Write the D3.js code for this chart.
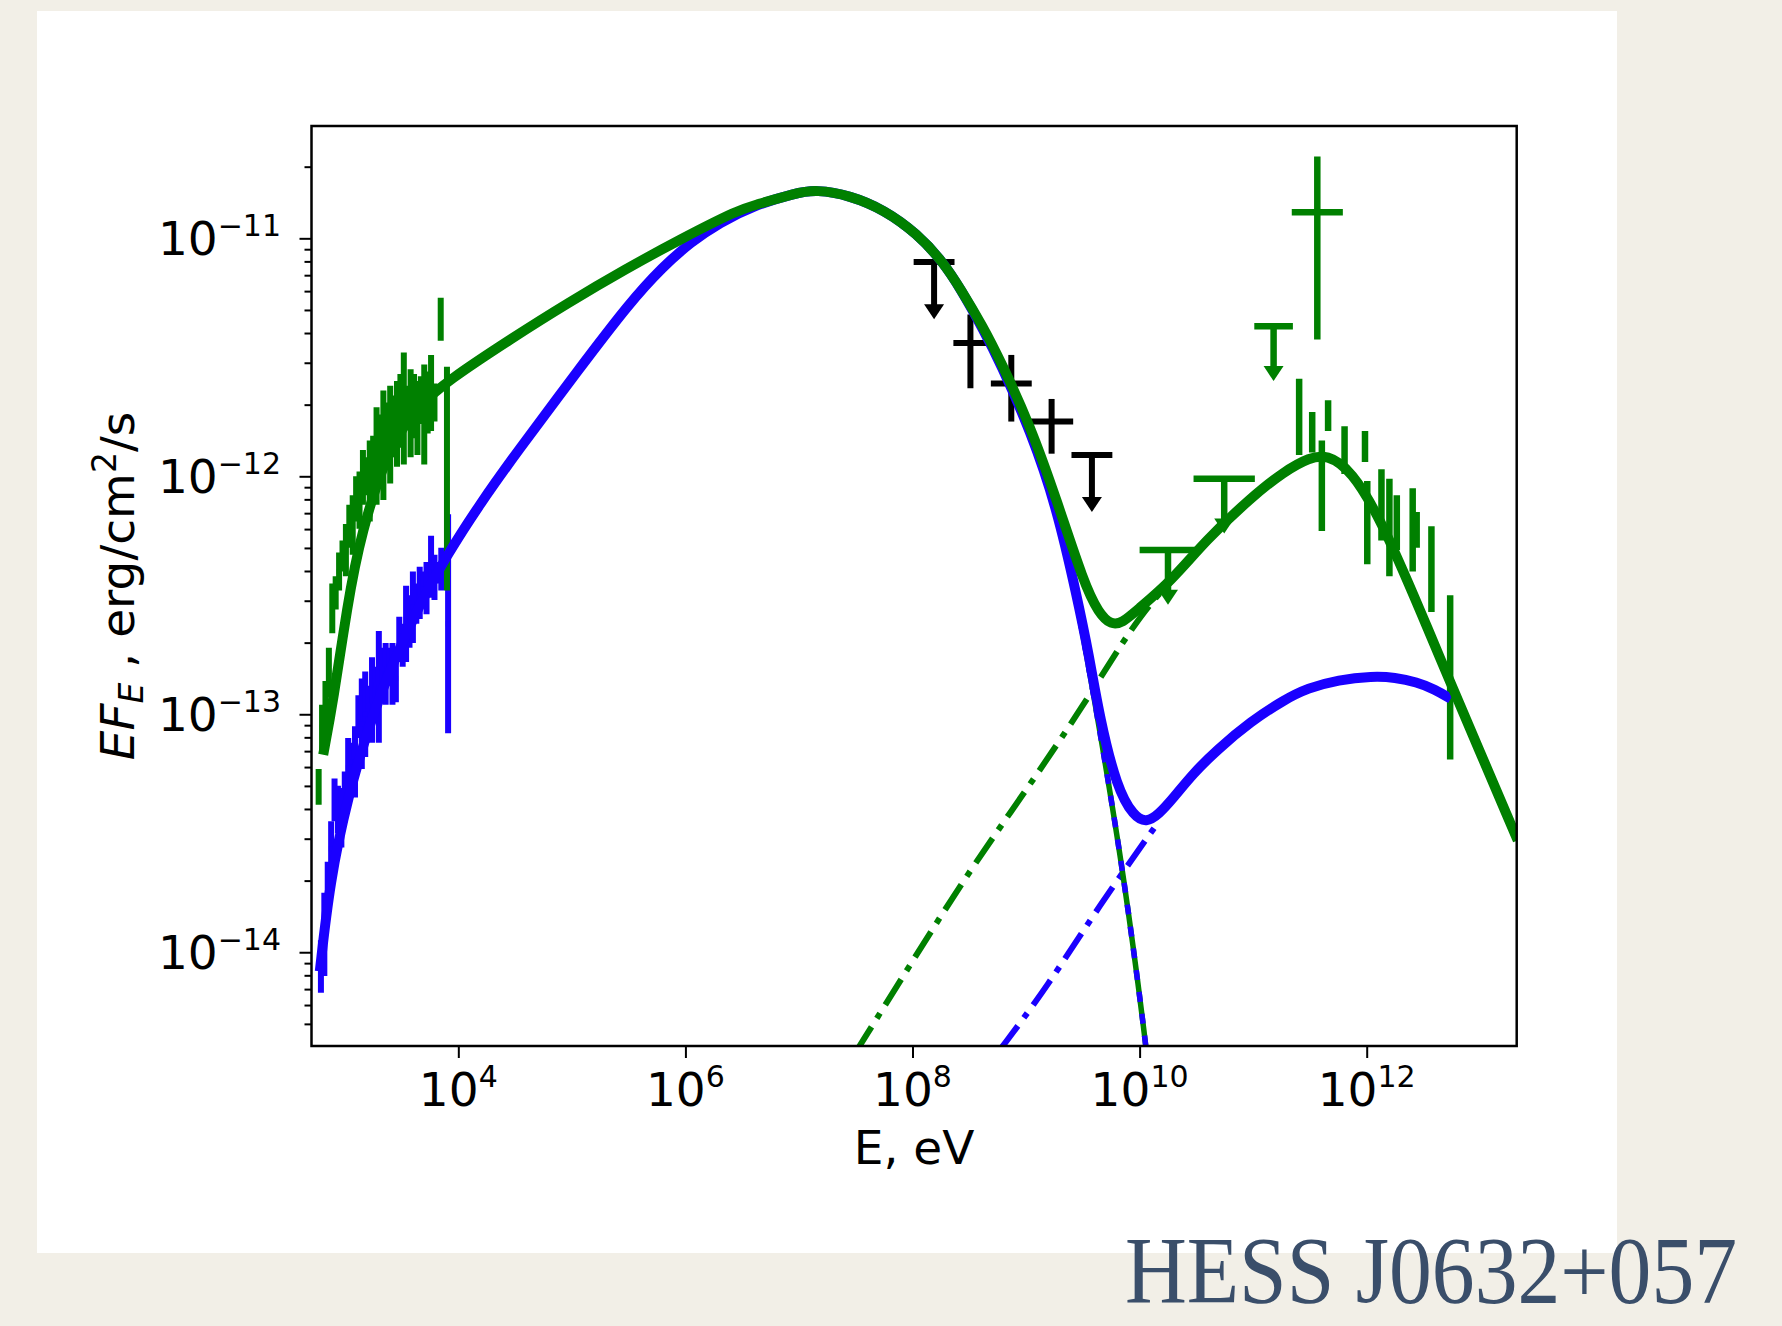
<!DOCTYPE html>
<html>
<head>
<meta charset="utf-8">
<script src="https://cdn.jsdelivr.net/npm/d3@7"></script>
<style>
  body { margin: 0; background: #f2efe7; }
  svg { display: block; }
</style>
</head>
<body>
<svg id="chart" width="1782" height="1326"></svg>
<script>
// all values, as log10(E / eV) and log10(E F_E / erg cm^-2 s^-1)
const xLgDomain = [2.707, 13.321];
const yLgDomain = [-14.394, -10.528];
const xTickExp = [4, 6, 8, 10, 12];
const yTickExp = [-14, -13, -12, -11];
const yMinorDecades = [-15, -14, -13, -12, -11];
const yMinorMant = [2, 3, 4, 5, 6, 7, 8, 9];

// model curves [lgE, lgF]
const greenModel = [[2.81,-13.17],[2.90,-12.94],[3.02,-12.55],[3.14,-12.24],[3.40,-11.86],[3.66,-11.70],[3.90,-11.60],
  [4.47,-11.42],[4.97,-11.27],[5.47,-11.13],[5.97,-11.00],[6.47,-10.88],[6.60,-10.862],[6.97,-10.81],[7.15,-10.795],
  [7.45,-10.82],[7.75,-10.88],[8.04,-10.98],[8.27,-11.10],[8.42,-11.21],[8.62,-11.37],[8.77,-11.51],[9.04,-11.79],
  [9.27,-12.10],[9.51,-12.45],[9.64,-12.575],[9.75,-12.625],[9.85,-12.615],[9.97,-12.565],[10.28,-12.44],[10.58,-12.27],
  [10.98,-12.09],[11.27,-11.98],[11.50,-11.92],[11.65,-11.91],[11.86,-11.97],[12.15,-12.20],[12.59,-12.70],[12.74,-12.87],
  [13.33,-13.53]];
const blueModel = [[2.78,-14.08],[2.87,-13.70],[3.02,-13.36],[3.25,-12.98],[3.61,-12.58],[3.90,-12.33],[4.20,-12.11],
  [4.49,-11.915],[5.07,-11.545],[5.51,-11.27],[5.80,-11.12],[6.05,-11.015],[6.30,-10.935],[6.60,-10.862],[6.97,-10.81],
  [7.15,-10.795],[7.45,-10.82],[7.75,-10.88],[8.04,-10.98],[8.27,-11.10],[8.42,-11.21],[8.62,-11.38],[8.77,-11.52],
  [9.04,-11.81],[9.27,-12.13],[9.45,-12.51],[9.55,-12.74],[9.65,-13.02],[9.80,-13.31],[9.95,-13.43],[10.06,-13.455],
  [10.17,-13.42],[10.30,-13.35],[10.47,-13.25],[10.68,-13.15],[10.98,-13.03],[11.27,-12.94],[11.48,-12.89],[11.75,-12.855],
  [12.05,-12.84],[12.25,-12.845],[12.44,-12.865],[12.60,-12.895],[12.74,-12.935]];
const greenIC = [[7.50,-14.42],[7.97,-14.06],[8.47,-13.68],[8.97,-13.34],[9.47,-12.99],[9.87,-12.68],[10.10,-12.53],[10.28,-12.44]];
const blueIC = [[8.77,-14.41],[9.18,-14.15],[9.65,-13.80],[10.14,-13.47]];
const syncTail = [[9.04,-11.81],[9.27,-12.14],[9.45,-12.52],[9.65,-13.07],[9.86,-13.67],[10.06,-14.40],[10.10,-14.60]];

// X-ray error bars [lgE, lgLo, lgHi]
const greenXray = [[2.77,-13.38,-13.23],[2.80,-13.15,-12.96],[2.83,-13.02,-12.86],[2.86,-12.93,-12.72],[2.89,-12.66,-12.45],
  [2.92,-12.56,-12.42],[2.95,-12.48,-12.32],[2.98,-12.40,-12.27],[3.01,-12.42,-12.20],[3.04,-12.30,-12.12],[3.07,-12.33,-12.08],
  [3.10,-12.19,-12.00],[3.13,-12.22,-11.98],[3.16,-12.12,-11.89],[3.19,-12.08,-11.92],[3.22,-12.19,-11.85],[3.25,-12.04,-11.83],
  [3.28,-12.12,-11.71],[3.31,-11.98,-11.74],[3.34,-12.10,-11.64],[3.37,-11.96,-11.69],[3.40,-12.03,-11.62],[3.43,-11.92,-11.66],
  [3.46,-11.96,-11.60],[3.49,-11.88,-11.57],[3.52,-11.95,-11.48],[3.55,-11.80,-11.62],[3.58,-11.92,-11.55],[3.61,-11.84,-11.57],
  [3.64,-11.91,-11.60],[3.67,-11.78,-11.58],[3.70,-11.95,-11.53],[3.73,-11.82,-11.56],[3.76,-11.81,-11.49],[3.79,-11.77,-11.61],
  [3.845,-11.43,-11.25],[3.90,-12.48,-11.54]];
const blueXray = [[2.79,-14.17,-13.95],[2.82,-14.10,-13.75],[2.85,-13.85,-13.62],[2.88,-13.68,-13.45],[2.91,-13.45,-13.27],
  [2.94,-13.50,-13.30],[2.97,-13.56,-13.31],[3.00,-13.35,-13.24],[3.03,-13.35,-13.10],[3.06,-13.28,-13.12],[3.09,-13.35,-13.05],
  [3.12,-13.10,-12.92],[3.15,-13.23,-12.85],[3.18,-13.18,-12.82],[3.21,-13.05,-12.88],[3.24,-13.12,-12.76],[3.27,-12.95,-12.80],
  [3.30,-13.12,-12.65],[3.33,-12.90,-12.72],[3.36,-12.96,-12.70],[3.39,-12.88,-12.72],[3.42,-12.96,-12.70],[3.45,-12.95,-12.75],
  [3.48,-12.78,-12.59],[3.51,-12.80,-12.62],[3.54,-12.78,-12.46],[3.57,-12.72,-12.50],[3.60,-12.70,-12.40],[3.63,-12.62,-12.45],
  [3.66,-12.60,-12.38],[3.69,-12.55,-12.40],[3.72,-12.58,-12.36],[3.76,-12.51,-12.25],[3.79,-12.52,-12.33],[3.82,-12.45,-12.36],
  [3.85,-12.48,-12.30],[3.91,-13.08,-12.16]];

// Fermi points [lgE, halfWidth dex, lgF, lgLo, lgHi] and upper limits [lgE, halfWidth, lgF, lgTip]
const fermiPoints = [[8.51,0.15,-11.44,-11.63,-11.32],[8.87,0.18,-11.61,-11.77,-11.49],[9.225,0.19,-11.77,-11.905,-11.675]];
const fermiUL = [[8.19,0.18,-11.10,-11.34],[9.58,0.18,-11.91,-12.15]];

// TeV points
const tevBars = [[11.405,-11.91,-11.59],[11.52,-11.90,-11.73],[11.605,-12.23,-11.85],[11.66,-11.81,-11.68],[11.805,-11.99,-11.79],
  [11.985,-11.94,-11.81],[12.005,-12.37,-12.02],[12.13,-12.27,-11.97],[12.20,-12.42,-12.01],[12.265,-12.31,-12.08],
  [12.405,-12.40,-12.05],[12.44,-12.30,-12.15],[12.57,-12.57,-12.21],[12.735,-13.19,-12.50]];
const tevCross = [[11.565,0.225,-10.89,-11.425,-10.656]];
const tevUL = [[10.25,0.25,-12.31,-12.54],[10.745,0.27,-12.01,-12.24],[11.18,0.17,-11.37,-11.60]];

const GREEN = "#008000", BLUE = "#1a00ff", BLACK = "#000";
const plot = {left: 311.5, right: 1516.7, top: 126, bottom: 1046};

const svg = d3.select("#chart");
svg.append("rect").attr("width", 1782).attr("height", 1326).attr("fill", "#f2efe7");
svg.append("rect").attr("x", 37).attr("y", 11).attr("width", 1580).attr("height", 1242).attr("fill", "#fff");

const x = d3.scaleLog().domain(xLgDomain.map(p => 10 ** p)).range([plot.left, plot.right]);
const y = d3.scaleLog().domain(yLgDomain.map(p => 10 ** p)).range([plot.bottom, plot.top]);
const px = lg => x(10 ** lg);
const py = lg => y(10 ** lg);

svg.append("clipPath").attr("id", "clip").append("rect")
  .attr("x", plot.left).attr("y", plot.top)
  .attr("width", plot.right - plot.left).attr("height", plot.bottom - plot.top);

const g = svg.append("g").attr("clip-path", "url(#clip)");
const line = d3.line().x(d => px(d[0])).y(d => py(d[1])).curve(d3.curveBasis);

// error bars
function xrayBars(data, color) {
  g.append("g").selectAll("line.v").data(data).enter().append("line")
    .attr("x1", d => px(d[0])).attr("x2", d => px(d[0]))
    .attr("y1", d => py(d[1])).attr("y2", d => py(d[2]))
    .attr("stroke", color).attr("stroke-width", 6);
  g.append("g").selectAll("line.h").data(data).enter().append("line")
    .attr("x1", d => px(d[0] - 0.02)).attr("x2", d => px(d[0] + 0.02))
    .attr("y1", d => py((d[1] + d[2]) / 2)).attr("y2", d => py((d[1] + d[2]) / 2))
    .attr("stroke", color).attr("stroke-width", 5);
}
xrayBars(blueXray, BLUE);
xrayBars(greenXray, GREEN);

function crosses(data, color, w) {
  const c = g.append("g").attr("stroke", color).attr("stroke-width", w);
  c.selectAll("line.h").data(data).enter().append("line")
    .attr("x1", d => px(d[0] - d[1])).attr("x2", d => px(d[0] + d[1]))
    .attr("y1", d => py(d[2])).attr("y2", d => py(d[2]));
  c.selectAll("line.v").data(data).enter().append("line")
    .attr("x1", d => px(d[0])).attr("x2", d => px(d[0]))
    .attr("y1", d => py(d[3])).attr("y2", d => py(d[4]));
}
function upperLimits(data, color, w) {
  const c = g.append("g");
  c.selectAll("line.h").data(data).enter().append("line")
    .attr("x1", d => px(d[0] - d[1])).attr("x2", d => px(d[0] + d[1]))
    .attr("y1", d => py(d[2])).attr("y2", d => py(d[2]))
    .attr("stroke", color).attr("stroke-width", w);
  c.selectAll("line.v").data(data).enter().append("line")
    .attr("x1", d => px(d[0])).attr("x2", d => px(d[0]))
    .attr("y1", d => py(d[2])).attr("y2", d => py(d[3]) - 6)
    .attr("stroke", color).attr("stroke-width", w);
  c.selectAll("path").data(data).enter().append("path")
    .attr("d", d => {
      const cx = px(d[0]), ty = py(d[3]);
      return `M${cx - 10},${ty - 15}L${cx + 10},${ty - 15}L${cx},${ty}Z`;
    })
    .attr("fill", color);
}
crosses(fermiPoints, BLACK, 6);
upperLimits(fermiUL, BLACK, 6);

g.append("g").selectAll("line").data(tevBars).enter().append("line")
  .attr("x1", d => px(d[0])).attr("x2", d => px(d[0]))
  .attr("y1", d => py(d[1])).attr("y2", d => py(d[2]))
  .attr("stroke", GREEN).attr("stroke-width", 6.5);
crosses(tevCross, GREEN, 6.5);
upperLimits(tevUL, GREEN, 6.5);

// model components
const dashDot = "30,10,6,10";
g.append("path").datum(blueIC).attr("d", line).attr("fill", "none")
  .attr("stroke", BLUE).attr("stroke-width", 6).attr("stroke-dasharray", dashDot);
g.append("path").datum(greenIC).attr("d", line).attr("fill", "none")
  .attr("stroke", GREEN).attr("stroke-width", 6).attr("stroke-dasharray", dashDot);
g.append("path").datum(syncTail).attr("d", line).attr("fill", "none")
  .attr("stroke", GREEN).attr("stroke-width", 5.5);
g.append("path").datum(syncTail).attr("d", line).attr("fill", "none")
  .attr("stroke", BLUE).attr("stroke-width", 5.5).attr("stroke-dasharray", "10,12");
g.append("path").datum(blueModel).attr("d", line).attr("fill", "none")
  .attr("stroke", BLUE).attr("stroke-width", 10).attr("stroke-linejoin", "round");
g.append("path").datum(greenModel).attr("d", line).attr("fill", "none")
  .attr("stroke", GREEN).attr("stroke-width", 10).attr("stroke-linejoin", "round");

// axes
const tickStyle = sel => {
  sel.select(".domain").remove();
  sel.selectAll(".tick line").attr("stroke", "#000").attr("stroke-width", 2);
};
svg.append("g").attr("transform", `translate(0,${plot.bottom})`)
  .call(d3.axisBottom(x).tickValues(xTickExp.map(e => 10 ** e)).tickSize(12).tickFormat(""))
  .call(tickStyle);
svg.append("g").attr("transform", `translate(${plot.left},0)`)
  .call(d3.axisLeft(y).tickValues(yTickExp.map(e => 10 ** e)).tickSize(12).tickFormat(""))
  .call(tickStyle);
const yMinor = [];
yMinorDecades.forEach(e => yMinorMant.forEach(m => {
  const v = m * 10 ** e;
  if (v > 10 ** yLgDomain[0] && v < 10 ** yLgDomain[1]) yMinor.push(v);
}));
svg.append("g").attr("transform", `translate(${plot.left},0)`)
  .call(d3.axisLeft(y).tickValues(yMinor).tickSize(7).tickFormat(""))
  .call(tickStyle);

const font = "'DejaVu Sans', sans-serif";
xTickExp.forEach(e => {
  const t = svg.append("text").attr("x", x(10 ** e)).attr("y", 1106)
    .attr("text-anchor", "middle").attr("font-family", font).attr("font-size", 47).attr("fill", "#000");
  t.append("tspan").text("10");
  t.append("tspan").attr("font-size", 30).attr("dy", -19).text(e);
});
yTickExp.forEach(e => {
  const t = svg.append("text").attr("x", 281).attr("y", y(10 ** e) + 17)
    .attr("text-anchor", "end").attr("font-family", font).attr("font-size", 47).attr("fill", "#000");
  t.append("tspan").text("10");
  t.append("tspan").attr("font-size", 30).attr("dy", -19).text("\u2212" + Math.abs(e));
});

svg.append("text").attr("x", (plot.left + plot.right) / 2).attr("y", 1164)
  .attr("text-anchor", "middle").attr("font-family", font).attr("font-size", 47).text("E, eV");

const yl = svg.append("text").attr("transform", "translate(134,586) rotate(-90)")
  .attr("text-anchor", "middle").attr("font-family", font).attr("font-size", 47);
yl.append("tspan").attr("font-style", "italic").text("EF");
yl.append("tspan").attr("font-style", "italic").attr("font-size", 33).attr("dy", 9).text("E");
yl.append("tspan").attr("dy", -9).text(" , erg/cm");
yl.append("tspan").attr("font-size", 33).attr("dy", -18).text("2");
yl.append("tspan").attr("dy", 18).text("/s");

svg.append("rect").attr("x", plot.left).attr("y", plot.top)
  .attr("width", plot.right - plot.left).attr("height", plot.bottom - plot.top)
  .attr("fill", "none").attr("stroke", "#000").attr("stroke-width", 2.5);

svg.append("text").attr("x", 1125).attr("y", 1303)
  .attr("font-family", "'Liberation Serif', serif").attr("font-size", 95)
  .attr("fill", "#3a4e6a").attr("textLength", 612).attr("lengthAdjust", "spacingAndGlyphs")
  .text("HESS J0632+057");
</script>
</body>
</html>
